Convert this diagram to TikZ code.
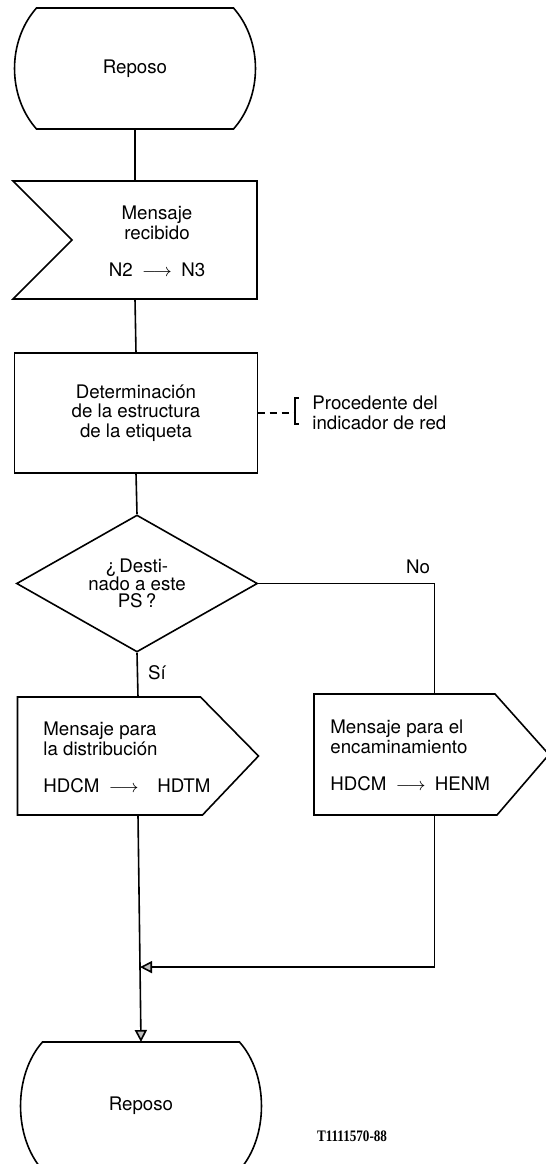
\documentclass[tikz,border=0pt]{standalone}
\usepackage{fontspec}
\setmainfont{TeX Gyre Heros}
\newfontfamily\tagfont[FakeStretch=0.82]{Liberation Serif}
\usetikzlibrary{shapes.geometric,arrows.meta,calc}
\newcommand\repout[1]{%
  \draw[ln] ($(#1.north west)+(22,0)$) -- ($(#1.north east)+(-22,0)$)
    .. controls ($(#1.north east)+(7.3,33)$) and ($(#1.south east)+(7.3,-33)$) .. ($(#1.south east)+(-22,0)$)
    -- ($(#1.south west)+(22,0)$)
    .. controls ($(#1.south west)+(-7.3,-33)$) and ($(#1.north west)+(-7.3,33)$) .. cycle;}
\begin{document}
\begin{tikzpicture}[x=0.5pt,y=-0.5pt,
  ln/.style={line width=0.8pt},
  txt/.style={font=\fontsize{9.35}{9.8}\selectfont, inner sep=0pt, align=center},
  frame/.style={txt, outer sep=0pt},
  tip/.style={-{Triangle[length=6pt,width=6pt,fill=gray!50]}}
]
\fill[white] (0,0) rectangle (546,1164);
\useasboundingbox (0,0) rectangle (546,1164);

% nodes
\node[frame, minimum width=120.5pt, minimum height=60.5pt] (rep1) at (135,68.5) {Reposo};
\node[frame, minimum width=122pt, minimum height=59pt] (msg) at (135,240) {};
\node[txt] (msgt) at (157,241.5) {Mensaje\\recibido\\[8.7pt]N2\enspace$\longrightarrow$\enspace N3};
\node[frame, draw, ln, minimum width=121.5pt, minimum height=60pt] (det) at (136,413)
  {Determinación\\de la estructura\\de la etiqueta};
\node[txt, font=\fontsize{9.35}{8.9}\selectfont, draw, ln, shape=diamond, aspect=1.75,
  minimum width=120.5pt, minimum height=68.5pt] (dia) at (137,583.5) {¿\,Desti-\\nado a este\\PS\,?};
\node[frame, minimum width=120.5pt, minimum height=59pt] (dist) at (138,756) {};
\node[txt, align=left, anchor=west] (distt) at (43,757.5)
  {Mensaje para\\la distribución\\[8.7pt]HDCM\enspace$\longrightarrow$\quad HDTM};
\node[frame, minimum width=117.5pt, minimum height=60.5pt] (route) at (431.5,754.5) {};
\node[txt, align=left, anchor=west] (routet) at (330,755.5)
  {Mensaje para el\\encaminamiento\\[8.7pt]HDCM\enspace$\longrightarrow$\enspace HENM};
\node[frame, minimum width=120.5pt, minimum height=64pt] (rep2) at (141,1106) {Reposo};
\node[txt, align=left, anchor=west] (ann) at (312,413) {Procedente del\\indicador de red};
\node[txt] (no) at (418,567) {No};
\node[txt] (si) at (157,673) {Sí};
\node[font={\tagfont\fontsize{8}{9}\selectfont\bfseries}, inner sep=0pt] (tag) at (352,1136) {T1111570-88};

% outlines
\repout{rep1}
\repout{rep2}
\draw[ln] (msg.north west) -- (msg.north east) -- (msg.south east) -- (msg.south west)
  -- ($(msg.west)+(59,0)$) -- cycle;
\draw[ln] (dist.north west) -- ($(dist.north east)+(-58,0)$) -- (dist.east)
  -- ($(dist.south east)+(-56,0)$) -- (dist.south west) -- cycle;
\draw[ln] (route.north west) -- ($(route.north east)+(-54,0)$) -- (route.east)
  -- ($(route.south east)+(-52,0)$) -- (route.south west) -- cycle;

% helper coordinates
\coordinate (rN) at ($(route.north)+(3,0)$);
\coordinate (rS) at ($(route.south)+(3,0)$);
\coordinate (mj) at ($(dist.south)!0.67!(rep2.north)$);
\coordinate (brk) at (295,413);

% connectors
\draw[ln] (rep1.south) -- (msg.north);
\draw[ln] (msg.south) -- (det.north);
\draw[ln] (det.south) -- (dia.north);
\draw[ln] (dia.south) -- (dist.north);
\draw[ln] (dia.east) -| (rN);
\draw[ln, tip] (dist.south) -- (rep2.north);
\draw[ln, tip] (rS) |- (mj);
\draw[ln, dash pattern=on 3.5pt off 2.5pt] (det.east) -- (brk);
\draw[ln] ($(brk)+(4,-15)$) -- ($(brk)+(0,-15)$) -- ($(brk)+(0,11)$) -- ($(brk)+(4,11)$);
\end{tikzpicture}
\end{document}
